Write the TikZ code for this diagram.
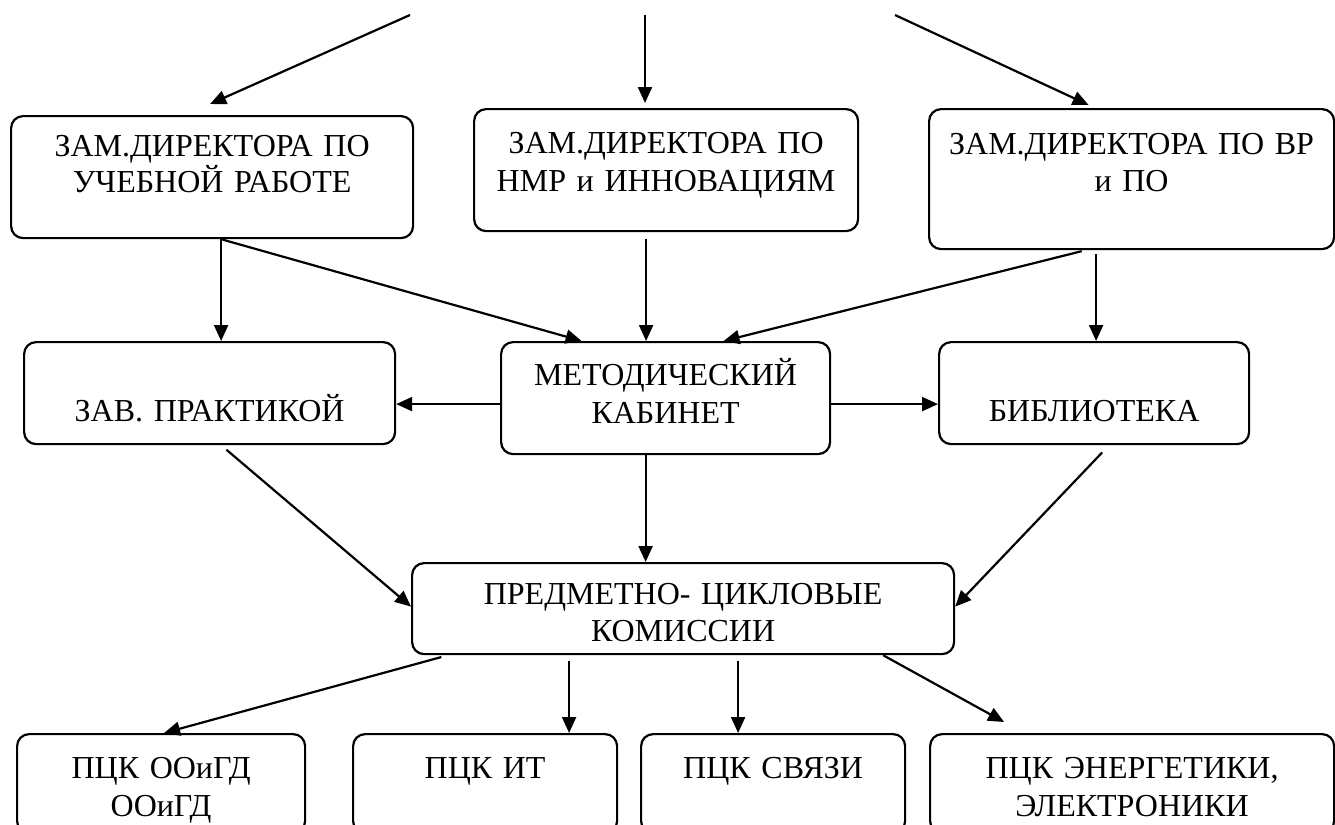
\documentclass[tikz,border=0pt]{standalone}
\usepackage{fontspec}
\setmainfont{Liberation Serif}
\usetikzlibrary{arrows.meta}
\tikzset{
  >={Triangle[length=8pt,width=7pt]},
  box/.style={draw,rounded corners=6pt,line width=1.1pt,inner sep=0pt,anchor=north west,align=center,font=\fontsize{16}{18.5}\selectfont},
  pbox/.style={box,text height=22pt,text depth=27.5pt,font=\fontsize{16}{19}\selectfont},
  arr/.style={->,line width=1.1pt},
}
\begin{document}
\begin{tikzpicture}[x=0.5pt,y=-0.5pt]
\useasboundingbox (0,0) rectangle (1335,825);
\coordinate (t1) at (410,15);
\coordinate (t2) at (645,15);
\coordinate (t3) at (895,15);
\node[box,text width=201pt,text height=20pt,text depth=41pt,font=\fontsize{16}{15.5}\selectfont] (zur) at (10,115) {\lineskiplimit=-20pt ЗАМ.ДИРЕКТОРА ПО\\УЧЕБНОЙ РАБОТЕ};
\node[box,text width=192pt,text height=22pt,text depth=39pt,font=\fontsize{16}{19}\selectfont] (znmr) at (473,108) {ЗАМ.ДИРЕКТОРА ПО\\НМР и ИННОВАЦИЯМ};
\node[box,text width=202.5pt,text height=22.5pt,text depth=47.5pt] (zvr) at (928,108) {ЗАМ.ДИРЕКТОРА ПО ВР\\и ПО};
\node[box,text width=185.5pt,text height=39.5pt,text depth=11.5pt] (zprak) at (23,341) {ЗАВ. ПРАКТИКОЙ};
\node[box,text width=164.5pt,text height=21.5pt,text depth=34.5pt,font=\fontsize{16}{19}\selectfont] (zmk) at (500,341) {МЕТОДИЧЕСКИЙ\\КАБИНЕТ};
\node[box,text width=155pt,text height=39.5pt,text depth=11.5pt] (zbib) at (938,341) {БИБЛИОТЕКА};
\node[box,text width=271pt,text height=20.5pt,text depth=25pt] (zpck) at (411,562) {ПРЕДМЕТНО- ЦИКЛОВЫЕ\\КОМИССИИ};
\node[pbox,text width=144pt] (p1) at (16,733) {ПЦК ООиГД\\ООиГД};
\node[pbox,text width=132pt] (p2) at (352,733) {ПЦК ИТ};
\node[pbox,text width=132pt] (p3) at (640,733) {ПЦК СВЯЗИ};
\node[pbox,text width=202pt] (p4) at (929,733) {ПЦК ЭНЕРГЕТИКИ,\\ЭЛЕКТРОНИКИ};
\draw[arr] (t1) -- ([xshift=-1pt,yshift=5.5pt]zur.north);
\draw[arr,shorten >=2.5pt] (t2) -- (t2 |- znmr.north);
\draw[arr] (t3) -- ([xshift=-21.5pt,yshift=1.5pt]zvr.north);
\draw[arr] ([xshift=4.5pt]zur.south) -- ([xshift=4.5pt]zur.south |- zprak.north);
\draw[arr] ([xshift=4.5pt]zur.south) -- ([xshift=-42pt]zmk.north);
\draw[arr,shorten <=3.5pt] ([xshift=-10pt]znmr.south) -- ([xshift=-10pt]znmr.south |- zmk.north);
\draw[arr,shorten <=2pt] ([xshift=-23pt]zvr.south) -- ([xshift=29pt]zmk.north);
\draw[arr,shorten <=2pt] ([xshift=-17.75pt]zvr.south) -- ([xshift=-17.75pt]zvr.south |- zbib.north);
\draw[arr] ([yshift=-3pt]zmk.west) -- ([yshift=-3pt]zmk.west -| zprak.east);
\draw[arr] ([yshift=-3pt]zmk.east) -- ([yshift=-3pt]zmk.east -| zbib.west);
\draw[arr,shorten <=3.5pt] ([xshift=5.75pt]zprak.south) -- ([yshift=1pt]zpck.west);
\draw[arr] ([xshift=-10pt]zmk.south) -- ([xshift=-10pt]zmk.south |- zpck.north);
\draw[arr,shorten <=5pt] ([xshift=7.5pt]zbib.south) -- ([yshift=1pt]zpck.east);
\draw[arr,shorten <=3.5pt] ([xshift=-117.5pt]zpck.south) -- ([xshift=1.5pt]p1.north);
\draw[arr,shorten <=3pt] ([xshift=-57pt]zpck.south) -- ([xshift=-57pt]zpck.south |- p2.north);
\draw[arr,shorten <=3pt] ([xshift=27.5pt]zpck.south) -- ([xshift=27.5pt]zpck.south |- p3.north);
\draw[arr] ([xshift=100pt]zpck.south) -- ([xshift=-64pt,yshift=5.5pt]p4.north);
\end{tikzpicture}
\end{document}
